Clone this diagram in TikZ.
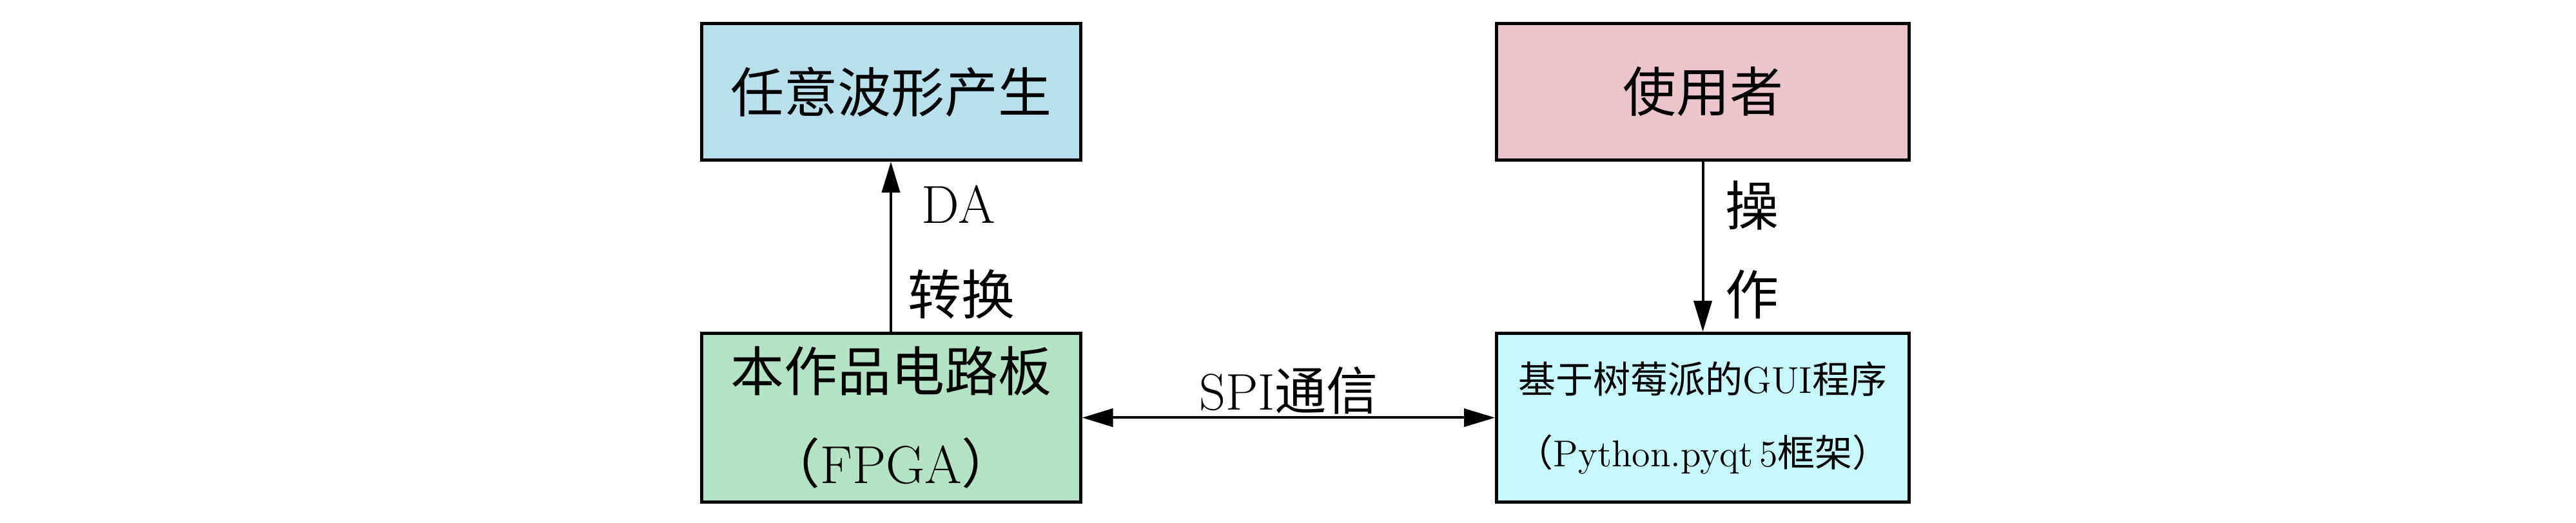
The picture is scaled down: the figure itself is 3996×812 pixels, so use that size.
\documentclass[tikz,border=0pt]{standalone}
\usepackage{fontspec}
\newfontfamily\cjk{Noto Sans CJK SC}
\usetikzlibrary{arrows.meta}
\definecolor{cblue}{RGB}{184,224,236}
\definecolor{cpink}{RGB}{236,196,206}
\definecolor{cgreen}{RGB}{180,226,196}
\definecolor{ccyan}{RGB}{200,247,251}
\begin{document}
\begin{tikzpicture}[x=0.25pt,y=-0.25pt,
  box/.style={draw=black,line width=1.25pt,inner sep=0pt,align=center,
    font=\fontsize{20.75}{35.75}\selectfont},
  lbl/.style={inner sep=0pt,anchor=base,font=\fontsize{20.75}{25}\selectfont},
  conn/.style={line width=1pt,-{Triangle[length=12pt,width=7pt]}},
  dconn/.style={line width=1pt,{Triangle[length=12pt,width=7pt]}-{Triangle[length=12pt,width=7pt]}}]
\useasboundingbox (0,0) rectangle (3996,812);
\node[box,fill=cblue,minimum width=147pt,minimum height=53pt] (wave) at (1382,142.5) {\cjk 任意波形产生};
\node[box,fill=cpink,minimum width=160pt,minimum height=53pt] (user) at (2641.5,142.5) {\cjk 使用者};
\node[box,fill=cgreen,minimum width=147pt,minimum height=65.5pt] (fpga) at (1382,648.5) {{\cjk 本作品电路板}\\{\cjk （}FPGA{\cjk ）}};
\node[box,fill=ccyan,minimum width=160pt,minimum height=65.5pt,font=\fontsize{14.5}{28.5}\selectfont] (gui) at (2641.5,648.5) {{\cjk 基于树莓派的}GUI{\cjk 程序}\\{\cjk （}Python.pyqt\,5{\cjk 框架）}};
\draw[conn] (fpga) -- (wave);
\draw[conn] (user) -- (gui);
\draw[dconn] (fpga) -- (gui);
\node[lbl] (da) at (1487,347) {DA};
\node[lbl] (zh) at (1491,489) {\cjk 转换};
\node[lbl] (cao) at (2718,351) {\cjk 操};
\node[lbl] (zuo) at (2718,489) {\cjk 作};
\node[lbl,font=\fontsize{20}{24}\selectfont] (spi) at (1999,637) {SPI{\cjk 通信}};
\end{tikzpicture}
\end{document}
